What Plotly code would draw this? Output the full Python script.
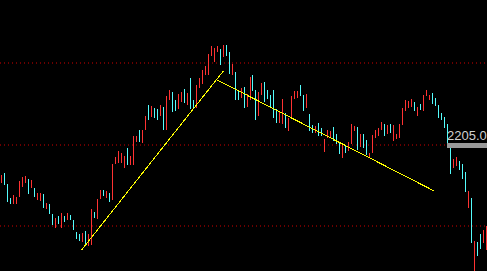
import plotly.graph_objects as go

# ---- data (daily bars: high / low / direction) ----
highs = [2175, 2177, 2166, 2152, 2155, 2153, 2169, 2173, 2174, 2171,
         2170, 2162, 2157, 2157, 2156, 2147, 2146, 2136, 2132, 2134,
         2137, 2134, 2137, 2135, 2130, 2118, 2116, 2117, 2119, 2116,
         2141, 2138, 2151, 2160, 2160, 2159, 2157, 2186, 2193, 2199,
         2197, 2194, 2202, 2194, 2214, 2214, 2220, 2220, 2234, 2245,
         2244, 2242, 2241, 2245, 2243, 2254, 2260, 2258, 2250, 2256,
         2258, 2261, 2257, 2272, 2250, 2265, 2272, 2280, 2284, 2296,
         2304, 2302, 2304, 2301, 2305, 2305, 2298, 2286, 2278, 2260,
         2262, 2263, 2256, 2273, 2275, 2260, 2258, 2267, 2268, 2260,
         2255, 2260, 2241, 2238, 2251, 2237, 2232, 2254, 2259, 2259,
         2265, 2255, 2256, 2236, 2225, 2224, 2227, 2222, 2211, 2220,
         2219, 2223, 2216, 2208, 2206, 2204, 2208, 2226, 2224, 2223,
         2216, 2216, 2210, 2197, 2215, 2220, 2222, 2228, 2226, 2225,
         2226, 2225, 2216, 2226, 2242, 2250, 2249, 2251, 2248, 2243,
         2246, 2255, 2260, 2255, 2257, 2252, 2245, 2237, 2233, 2226,
         2202, 2191, 2193, 2189, 2186, 2178, 2159, 2152, 2109, 2108,
         2116, 2120, 2124]
lows = [2167, 2165, 2148, 2146, 2146, 2146, 2153, 2163, 2167, 2156,
        2162, 2153, 2150, 2149, 2142, 2141, 2136, 2125, 2122, 2126,
        2122, 2128, 2130, 2130, 2120, 2111, 2109, 2108, 2106, 2104,
        2105, 2132, 2131, 2151, 2154, 2152, 2148, 2150, 2186, 2187,
        2187, 2182, 2185, 2185, 2185, 2208, 2208, 2207, 2220, 2230,
        2233, 2232, 2230, 2234, 2220, 2220, 2250, 2238, 2239, 2241,
        2248, 2247, 2245, 2241, 2242, 2242, 2262, 2266, 2275, 2275,
        2294, 2288, 2298, 2285, 2293, 2294, 2276, 2275, 2250, 2250,
        2252, 2242, 2243, 2250, 2259, 2230, 2234, 2255, 2248, 2251,
        2242, 2232, 2227, 2227, 2226, 2222, 2219, 2231, 2251, 2252,
        2254, 2239, 2242, 2219, 2217, 2217, 2214, 2214, 2198, 2212,
        2212, 2209, 2206, 2196, 2192, 2197, 2199, 2206, 2219, 2200,
        2203, 2202, 2195, 2192, 2197, 2212, 2214, 2220, 2214, 2216,
        2217, 2209, 2211, 2212, 2225, 2239, 2242, 2243, 2239, 2234,
        2240, 2239, 2254, 2250, 2246, 2244, 2232, 2230, 2222, 2203,
        2176, 2182, 2184, 2180, 2171, 2158, 2142, 2107, 2075, 2094,
        2101, 2107, 2100]
# 1 = up (red), 0 = down (cyan)
up = [1, 0, 0, 0, 1, 1, 1, 1, 1, 0,
      1, 0, 1, 1, 0, 1, 0, 0, 1, 0,
      1, 0, 1, 0, 0, 0, 0, 1, 0, 1,
      1, 0, 1, 1, 0, 1, 0, 1, 1, 1,
      1, 1, 0, 1, 1, 1, 0, 1, 1, 0,
      1, 0, 0, 1, 0, 1, 1, 0, 0, 1,
      1, 0, 1, 0, 0, 1, 1, 1, 1, 1,
      1, 1, 1, 0, 1, 0, 0, 1, 0, 0,
      1, 0, 1, 1, 0, 0, 1, 1, 0, 0,
      0, 0, 0, 1, 1, 0, 1, 1, 1, 1,
      0, 0, 1, 0, 0, 1, 0, 0, 1, 1,
      1, 0, 0, 0, 1, 0, 1, 1, 1, 0,
      1, 0, 0, 1, 1, 1, 1, 1, 0, 1,
      0, 1, 1, 1, 1, 1, 1, 1, 0, 1,
      0, 1, 1, 1, 0, 0, 0, 0, 0, 0,
      0, 1, 1, 0, 0, 0, 1, 0, 1, 0,
      0, 1, 1]

grid_levels = [2124, 2205, 2287]
price_label = "2205.0"
trend1_x = [26.65, 74.1]
trend1_y = [2099.7, 2279.0]
trend2_x = [72.1, 144.35]
trend2_y = [2270.0, 2159.3]

RED = "rgb(255,50,50)"
CYAN = "rgb(84,252,252)"

fig = go.Figure()

def seg(flag):
    xs, ys = [], []
    for i, (h, l, u) in enumerate(zip(highs, lows, up)):
        if u == flag:
            xs += [i, i, None]
            ys += [l, h, None]
    return xs, ys

for flag, col in ((1, RED), (0, CYAN)):
    xs, ys = seg(flag)
    fig.add_trace(go.Scatter(x=xs, y=ys, mode="lines",
                             line=dict(color=col, width=1),
                             hoverinfo="skip", showlegend=False))

fig.add_trace(go.Scatter(x=trend1_x, y=trend1_y, mode="lines",
                         line=dict(color="#FFFF00", width=1),
                         hoverinfo="skip", showlegend=False))
fig.add_trace(go.Scatter(x=trend2_x, y=trend2_y, mode="lines",
                         line=dict(color="#FFFF00", width=1),
                         hoverinfo="skip", showlegend=False))

for g in grid_levels:
    fig.add_shape(type="line", xref="paper", x0=0, x1=1, yref="y", y0=g, y1=g,
                  line=dict(color="rgb(210,0,0)", width=1, dash="1px,3px"),
                  layer="below")

# price tag on the right edge
fig.add_shape(type="rect", xref="paper", x0=447/487, x1=1, yref="y",
              y0=2202, y1=2207, fillcolor="#999999", line=dict(width=0))
fig.add_annotation(xref="paper", x=1.0, xanchor="right", yref="y", y=2207,
                   yanchor="bottom", text=price_label, showarrow=False,
                   font=dict(family="Liberation Sans", size=13, color="#D0D0D0"),
                   borderpad=0, xshift=1, yshift=-1)

fig.update_layout(
    width=487, height=271, margin=dict(l=0, r=0, t=0, b=0),
    paper_bgcolor="black", plot_bgcolor="black",
    xaxis=dict(range=[-0.5, 162.16], visible=False, fixedrange=True),
    yaxis=dict(range=[2079, 2350], visible=False, fixedrange=True),
    showlegend=False,
)

crisp = ("document.querySelectorAll('.scatterlayer path.js-line')"
         ".forEach(function(p){p.style.shapeRendering='crispEdges';});")

fig.write_html("out.html", config={"displayModeBar": False}, post_script=crisp)
